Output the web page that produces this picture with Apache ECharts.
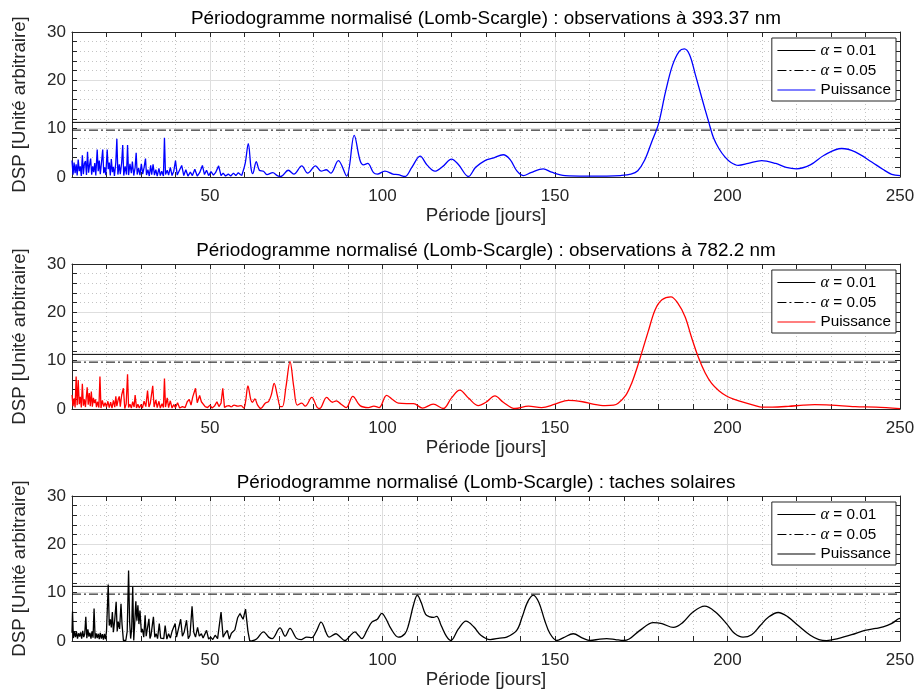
<!DOCTYPE html>
<html><head><meta charset="utf-8">
<script src="https://cdn.jsdelivr.net/npm/echarts@6/dist/echarts.min.js"></script>
<style>html,body{margin:0;padding:0;background:#fff}#c{width:915px;height:693px}</style>
</head><body><div id="c"></div><script>
// ---------- data ----------
const xMin = 10, xMax = 250;
const yMin = 0, yMax = 30;
const alpha01 = 11.3;   // seuil alpha = 0.01
const alpha05 = 9.7;    // seuil alpha = 0.05
const titles = [
  'Périodogramme normalisé (Lomb-Scargle) : observations à 393.37 nm',
  'Périodogramme normalisé (Lomb-Scargle) : observations à 782.2 nm',
  'Périodogramme normalisé (Lomb-Scargle) : taches solaires'
];
const xTickLabels = [50, 100, 150, 200, 250];
const yTickLabels = [0, 10, 20, 30];

// Panel 1 : 393.37 nm (blue)
const p1Period = [10.0,10.3,10.6,10.9,11.2,11.5,11.8,12.1,12.4,12.7,13.0,13.3,13.6,13.9,14.2,14.5,14.8,15.1,15.4,15.7,16.0,16.3,16.6,16.9,17.3,17.6,17.9,18.2,18.5,18.9,19.2,19.5,19.8,20.2,20.5,20.8,21.1,21.4,21.7,22.0,22.3,22.7,23.0,23.3,23.7,24.0,24.4,24.7,25.0,25.4,25.8,26.1,26.4,26.8,27.2,27.5,27.9,28.3,28.6,28.9,29.3,29.7,30.1,30.5,30.9,31.3,31.6,32.0,32.4,32.8,33.1,33.5,33.9,34.3,34.7,35.2,35.6,36.0,36.5,36.8,37.1,37.6,38.0,38.5,39.0,39.5,40.0,40.5,41.0,41.8,42.4,43.0,43.6,44.3,44.9,45.6,46.3,47.0,47.8,48.4,49.0,49.6,50.3,51.0,51.6,52.5,53.2,53.8,54.5,55.3,56.0,56.8,57.5,58.2,58.8,59.2,
  60.2,61.1,61.9,62.4,63.4,64.3,65.5,66.5,68.2,69.5,70.5,72.7,74.3,76.6,78.3,80.6,82.2,83.7,85.0,87.2,89.6,91.8,93.5,94.5,95.7,97.4,98.5,100.7,103.0,104.5,106.5,108.5,110.9,113.0,115.2,117.5,120.0,122.0,124.9,127.0,129.7,132.0,135.0,137.0,139.0,140.8,143.0,146.6,149.0,152.9,159.0,165.0,169.0,172.0,174.0,176.0,178.0,180.0,182.0,184.0,186.0,187.5,189.0,190.6,192.5,194.5,196.0,197.5,199.3,201.0,203.1,206.0,209.9,214.0,217.0,220.0,224.0,228.0,233.1,237.0,241.8,245.0,247.6,250.0];
const p1Power = [3.4,0.5,3.0,0.8,2.6,0.3,3.6,1.2,2.2,0.2,4.5,0.6,2.8,3.3,0.4,5.2,0.9,2.5,3.8,0.5,2.2,1.0,2.9,0.3,5.7,1.2,3.4,0.6,2.6,5.7,0.8,2.0,0.4,5.7,1.6,3.0,0.3,3.7,1.0,2.1,0.2,3.0,7.9,0.5,2.6,0.6,3.0,6.6,0.3,2.2,0.5,6.6,0.4,2.7,0.8,3.2,0.3,2.0,5.0,0.5,1.9,0.4,2.7,0.6,2.0,3.8,0.4,1.5,0.2,2.4,0.5,2.6,0.4,1.5,0.2,1.8,0.3,1.2,0.2,8.1,0.5,1.4,0.4,2.0,0.3,1.2,3.4,0.4,0.8,2.4,0.3,1.5,0.2,1.0,0.3,1.6,0.2,0.9,2.4,0.5,1.4,0.3,1.1,0.4,0.9,2.3,0.3,0.8,0.2,0.6,0.2,0.8,0.3,0.9,0.5,0.3,
  2.8,6.9,1.8,0.7,3.2,1.4,1.2,0.5,0.9,0.3,0.1,1.4,0.6,2.3,0.8,2.3,1.2,1.5,0.8,3.4,0.2,8.6,3.4,2.5,2.8,0.9,0.6,1.2,0.6,0.5,0.1,2.0,4.3,2.4,1.2,2.2,3.7,2.6,0.1,2.0,3.4,3.9,4.6,3.6,1.2,0.3,0.9,1.7,1.0,0.3,0.2,0.2,0.3,0.6,1.3,3.5,7.2,11.0,17.5,23.0,26.0,26.5,25.3,21.4,16.5,11.5,8.0,5.9,4.1,3.0,2.4,2.8,3.4,2.8,2.0,1.7,2.5,4.5,5.9,5.2,3.1,1.6,0.55,0.3];
const p1SmoothFrom = 59.2;

// Panel 2 : 782.2 nm (red)
const p2Period = [10.0,10.3,10.6,10.9,11.2,11.5,11.8,12.1,12.4,12.7,13.0,13.3,13.6,13.9,14.4,14.7,15.0,15.3,15.6,15.9,16.2,16.5,16.8,17.1,17.4,17.8,18.1,18.4,18.8,19.2,19.6,20.0,20.4,20.8,21.2,21.6,22.0,22.4,22.7,23.0,23.4,23.7,24.0,24.4,24.9,25.3,25.7,26.1,26.4,26.8,27.2,27.6,28.0,28.3,28.7,29.1,29.5,30.0,30.4,30.9,31.4,31.9,32.3,32.7,33.0,33.4,33.8,34.3,34.7,35.2,35.6,36.1,36.5,36.8,37.1,37.6,38.0,38.5,39.0,39.5,40.0,40.6,41.2,42.0,42.8,43.4,44.0,44.5,45.0,45.8,46.3,47.0,47.5,48.0,48.6,49.3,50.0,50.6,51.3,52.0,52.6,53.2,53.7,54.2,54.8,55.5,56.2,
  57.0,58.0,59.0,59.8,60.3,61.0,61.8,62.3,63.0,63.8,64.7,66.0,67.0,67.8,68.6,69.6,70.4,71.0,72.0,73.2,74.3,75.3,76.6,77.6,79.5,81.0,81.8,83.8,85.5,86.6,88.0,89.5,91.4,93.5,95.9,97.5,99.0,101.2,103.0,104.6,107.0,109.0,111.6,114.7,117.6,120.0,122.4,125.0,127.8,130.0,132.6,135.0,138.4,142.3,146.1,150.0,153.9,158.0,161.0,164.5,167.0,168.3,170.5,172.2,174.0,175.5,177.0,179.0,181.0,183.6,185.5,187.7,189.5,191.5,193.5,195.4,197.5,199.7,202.0,205.0,208.0,209.9,213.0,217.6,222.0,225.3,230.0,237.0,243.0,250.0];
const p2Power = [2.9,0.6,2.2,0.3,6.7,0.8,6.0,1.0,2.5,0.3,5.2,0.7,2.0,0.4,4.5,0.9,3.3,0.6,3.6,0.5,2.3,1.2,2.0,0.4,1.5,0.3,6.7,0.2,1.8,0.5,1.3,0.4,1.6,0.3,1.4,0.2,1.8,0.4,2.6,0.6,2.0,2.6,0.5,2.9,4.3,0.1,1.0,7.2,0.3,1.0,0.2,1.5,0.4,2.9,0.2,1.0,0.2,0.9,0.2,1.6,0.5,3.8,0.4,1.2,0.8,4.8,0.4,1.9,0.3,1.6,0.2,1.1,0.3,6.3,0.4,2.3,0.3,1.7,0.2,0.9,0.3,1.3,0.2,0.5,0.3,1.5,2.0,0.8,2.5,4.3,1.3,2.8,1.5,1.8,0.5,0.3,0.8,0.2,0.6,1.5,0.5,1.2,4.3,0.3,0.6,0.7,0.4,
  0.8,0.6,0.7,0.2,1.5,4.8,2.0,1.4,2.1,0.8,0.1,1.2,1.6,3.0,5.3,2.5,0.5,0.5,4.5,9.8,4.5,0.8,1.2,0.6,2.4,0.4,0.1,2.4,1.4,1.7,1.0,0.3,2.6,0.7,0.3,0.6,0.3,2.8,1.9,1.2,1.1,1.1,0.2,1.0,0.1,2.3,3.9,2.2,0.7,1.4,2.7,1.4,0.1,0.6,0.3,1.0,1.8,1.5,1.0,0.7,0.8,1.2,2.8,5.3,9.0,12.5,16.0,20.5,22.6,23.2,22.0,19.1,15.0,10.8,7.5,5.3,3.8,2.7,2.0,1.3,0.7,0.4,0.4,0.55,0.8,0.9,0.8,0.5,0.4,0.07];
const p2SmoothFrom = 56.2;

// Panel 3 : taches solaires (black)
const p3Period = [10.0,10.15,10.4,10.7,11.0,11.3,11.6,11.9,12.2,12.5,12.8,13.1,13.4,13.7,14.0,14.3,14.6,14.9,15.2,15.5,15.8,16.1,16.4,16.7,17.0,17.3,17.6,17.9,18.2,18.5,18.8,19.1,19.4,19.7,20.0,20.5,20.8,21.1,21.4,21.7,22.0,22.4,22.8,23.1,23.4,23.8,24.2,24.5,24.9,25.2,25.6,26.0,26.4,26.7,27.0,27.3,27.6,27.9,28.2,28.5,28.8,29.1,29.4,29.7,30.1,30.4,30.8,31.2,31.5,31.9,32.3,32.6,32.9,33.6,34.0,34.4,34.8,35.3,35.7,36.1,36.6,37.0,37.5,38.0,38.5,39.0,39.9,40.3,40.8,41.5,42.0,42.5,43.2,43.7,44.2,44.8,45.3,45.8,46.4,46.9,47.5,48.0,49.0,49.6,50.2,50.8,51.5,52.2,53.2,53.8,54.3,55.0,55.6,56.2,57.2,58.0,58.7,59.2,59.6,60.3,61.0,61.5,62.0,
  63.5,65.5,67.0,68.0,70.3,71.8,73.2,75.0,76.5,78.0,79.5,80.8,82.2,83.8,84.5,86.5,87.5,89.1,90.5,92.0,93.0,94.0,95.5,96.9,98.5,99.8,101.0,102.5,104.6,106.5,107.5,109.0,110.1,111.2,112.5,113.8,114.8,115.7,117.0,118.5,119.8,122.0,124.2,126.5,128.5,131.2,134.0,136.0,138.9,140.5,142.0,143.7,145.3,147.0,148.5,150.5,152.5,155.3,158.0,160.2,163.0,165.0,167.5,169.8,171.5,174.6,178.5,181.0,184.3,187.0,190.0,193.4,196.5,199.7,202.0,204.5,207.0,209.5,212.0,214.7,217.5,220.5,224.0,226.5,228.7,232.0,236.0,239.8,243.0,245.1,247.5,249.6,250.0];
const p3Power = [1.7,6.1,0.6,2.0,0.8,1.9,0.5,1.6,0.9,1.8,0.5,2.1,0.8,1.5,5.0,0.6,2.4,0.9,1.7,0.5,2.0,0.7,6.7,0.5,1.6,0.6,1.5,0.4,1.7,0.5,1.4,0.3,1.5,0.4,2.0,11.7,3.2,4.5,2.8,6.0,1.8,4.5,8.1,2.0,4.0,2.5,7.7,3.5,0.1,0.0,0.1,2.0,14.6,4.0,0.5,2.5,11.2,0.1,4.0,8.2,4.2,7.4,3.5,6.3,1.8,2.5,0.8,5.3,1.0,0.6,4.6,0.5,1.2,5.0,0.8,1.5,0.5,3.6,0.6,1.0,0.5,3.2,0.4,1.5,0.6,2.0,3.6,0.8,1.2,4.5,1.0,1.8,4.3,0.5,1.2,7.2,1.8,0.8,2.8,1.0,1.5,0.6,2.2,0.4,0.8,0.3,1.2,0.5,6.0,0.8,1.5,2.2,0.4,1.6,2.3,4.8,5.7,5.0,4.5,6.6,2.0,0.1,0.0,
  0.4,1.9,0.8,0.5,2.7,1.0,2.6,0.6,0.3,0.8,0.7,2.0,3.9,1.5,0.8,1.5,1.0,0.1,1.0,1.9,1.2,0.5,2.2,3.9,4.5,5.7,4.6,2.5,0.8,1.5,3.2,7.5,9.5,8.0,5.5,5.0,4.9,5.1,3.2,1.0,0.1,2.5,4.1,2.9,1.2,0.3,0.6,0.8,2.2,5.0,8.0,9.5,8.0,4.3,1.6,0.1,0.7,1.5,0.6,0.1,0.4,0.5,0.3,0.1,0.4,2.2,3.8,3.6,2.8,3.8,6.0,7.2,6.0,3.6,1.6,0.8,1.3,3.2,5.0,5.9,5.0,3.2,1.2,0.3,0.07,0.5,1.3,2.2,2.6,2.9,3.6,4.6,4.7];
const p3SmoothFrom = 62.0;

const panelColors = ['#0000ff', '#ff0000', '#000000'];

// ---------- layout / style ----------
const FONT = '"Liberation Sans", Arial, Helvetica, sans-serif';
const SERIF = '"Liberation Serif", "DejaVu Serif", serif';
const AX = '#262626';
const MAJOR = '#dedede';
const MINOR = '#c4c4c4';
const NONE = 'rgba(0,0,0,0)';
const gridTops = [32, 264, 496];
const gridH = 145, gridLeft = 72, gridRight = 15;
const DASHDOT = [9, 3, 2, 3];

const panels = [
  {period: p1Period, power: p1Power, split: p1SmoothFrom},
  {period: p2Period, power: p2Power, split: p2SmoothFrom},
  {period: p3Period, power: p3Power, split: p3SmoothFrom}
];

const option = {
  animation: false, backgroundColor: '#fff',
  title: [], legend: [], grid: [], xAxis: [], yAxis: [], series: []
};

const axLine = {show: true, onZero: false, lineStyle: {color: AX, width: 1}};
const axTick = {show: true, inside: true, length: 5, lineStyle: {color: AX, width: 1}};

function legendText(n) {
  if (n.indexOf('a01') === 0) return '{a|α} = 0.01';
  if (n.indexOf('a05') === 0) return '{a|α} = 0.05';
  return 'Puissance';
}

panels.forEach((p, i) => {
  const top = gridTops[i];
  option.grid.push({left: gridLeft, right: gridRight, top: top, height: gridH, outerBoundsMode: 'none'});
  option.title.push({
    text: titles[i], left: gridLeft + (915 - gridLeft - gridRight) / 2, top: top - 23,
    textAlign: 'center', padding: 0,
    textStyle: {fontFamily: FONT, fontSize: 18.9, fontWeight: 'normal', color: '#000', lineHeight: 20}
  });
  // bottom x axis (labels, dotted minor grid)
  option.xAxis.push({
    gridIndex: i, type: 'value', position: 'bottom', min: xMin, max: xMax, interval: 10,
    axisLine: axLine, axisTick: axTick,
    axisLabel: {formatter: v => (xTickLabels.indexOf(v) >= 0 ? String(v) : ''), color: AX, fontSize: 17, fontFamily: FONT, margin: 11},
    splitLine: {show: true, lineStyle: {color: [MINOR, MINOR, MINOR, MINOR, NONE], type: [1, 3], width: 1}},
    name: 'Période [jours]', nameLocation: 'middle', nameGap: 27,
    nameTextStyle: {fontFamily: FONT, fontSize: 18.7, color: AX, lineHeight: 20}
  });
  // top x axis (box + major solid grid)
  option.xAxis.push({
    gridIndex: i, type: 'value', position: 'top', min: xMin, max: xMax, interval: 10,
    axisLine: axLine, axisTick: axTick, axisLabel: {show: false},
    splitLine: {show: true, lineStyle: {color: [NONE, NONE, NONE, NONE, MAJOR], type: 'solid', width: 1}}
  });
  // left y axis
  option.yAxis.push({
    gridIndex: i, type: 'value', position: 'left', min: yMin, max: yMax, interval: 10,
    axisLine: axLine, axisTick: axTick,
    minorTick: {show: true, splitNumber: 5, length: 5, lineStyle: {color: AX, width: 1}},
    axisLabel: {formatter: v => (yTickLabels.indexOf(v) >= 0 ? String(v) : ''), color: AX, fontSize: 17, fontFamily: FONT, margin: 6},
    splitLine: {show: true, lineStyle: {color: MAJOR, width: 1}},
    minorSplitLine: {show: true, lineStyle: {color: MINOR, type: [1, 3], width: 1}},
    name: 'DSP [Unité arbitraire]', nameLocation: 'middle', nameGap: 42, nameRotate: 90,
    nameTextStyle: {fontFamily: FONT, fontSize: 18.7, color: AX, lineHeight: 20}
  });
  // right y axis (box)
  option.yAxis.push({
    gridIndex: i, type: 'value', position: 'right', min: yMin, max: yMax, interval: 10,
    axisLine: axLine, axisTick: axTick,
    minorTick: {show: true, splitNumber: 5, length: 5, lineStyle: {color: AX, width: 1}},
    axisLabel: {show: false}, splitLine: {show: false}
  });

  const xi = 2 * i, yi = 2 * i;
  const pts = p.period.map((x, k) => [x, p.power[k]]);
  const noise = pts.filter(d => d[0] <= p.split);
  const smooth = pts.filter(d => d[0] >= p.split);
  const col = panelColors[i];

  option.series.push({
    type: 'line', name: 'a01_' + i, xAxisIndex: xi, yAxisIndex: yi,
    data: [[xMin, alpha01], [xMax, alpha01]], symbol: 'none', silent: true, z: 2,
    lineStyle: {color: '#000', width: 1}, itemStyle: {color: '#000'}
  });
  option.series.push({
    type: 'line', name: 'a05_' + i, xAxisIndex: xi, yAxisIndex: yi,
    data: [[xMin, alpha05], [xMax, alpha05]], symbol: 'none', silent: true, z: 2,
    lineStyle: {color: '#000', width: 1, type: DASHDOT}, itemStyle: {color: '#000'}
  });
  option.series.push({
    type: 'line', name: 'pw_' + i, xAxisIndex: xi, yAxisIndex: yi,
    data: noise, symbol: 'none', silent: true, z: 3,
    lineStyle: {color: col, width: 1.3}, itemStyle: {color: col}
  });
  option.series.push({
    type: 'line', name: 'pw_' + i, xAxisIndex: xi, yAxisIndex: yi,
    data: smooth, symbol: 'none', silent: true, z: 3, smooth: 0.35,
    lineStyle: {color: col, width: 1.3}, itemStyle: {color: col}
  });

  option.legend.push({
    orient: 'vertical', right: 19, top: top + 6,
    data: ['a01_' + i, 'a05_' + i, 'pw_' + i],
    formatter: legendText, selectedMode: false,
    itemWidth: 38, itemHeight: 14, itemGap: 3,
    padding: [4, 5, 3, 5], borderColor: AX, borderWidth: 1, borderRadius: 0, backgroundColor: '#fff',
    itemStyle: {opacity: 0},
    lineStyle: {width: 1.2},
    textStyle: {fontFamily: FONT, fontSize: 15.3, color: '#000', lineHeight: 16,
      rich: {a: {fontFamily: SERIF, fontStyle: 'italic', fontSize: 16.5, color: '#000'}}}
  });
});

const chart = echarts.init(document.getElementById('c'), null, {renderer: 'canvas', width: 915, height: 693});
chart.setOption(option);
</script></body></html>
